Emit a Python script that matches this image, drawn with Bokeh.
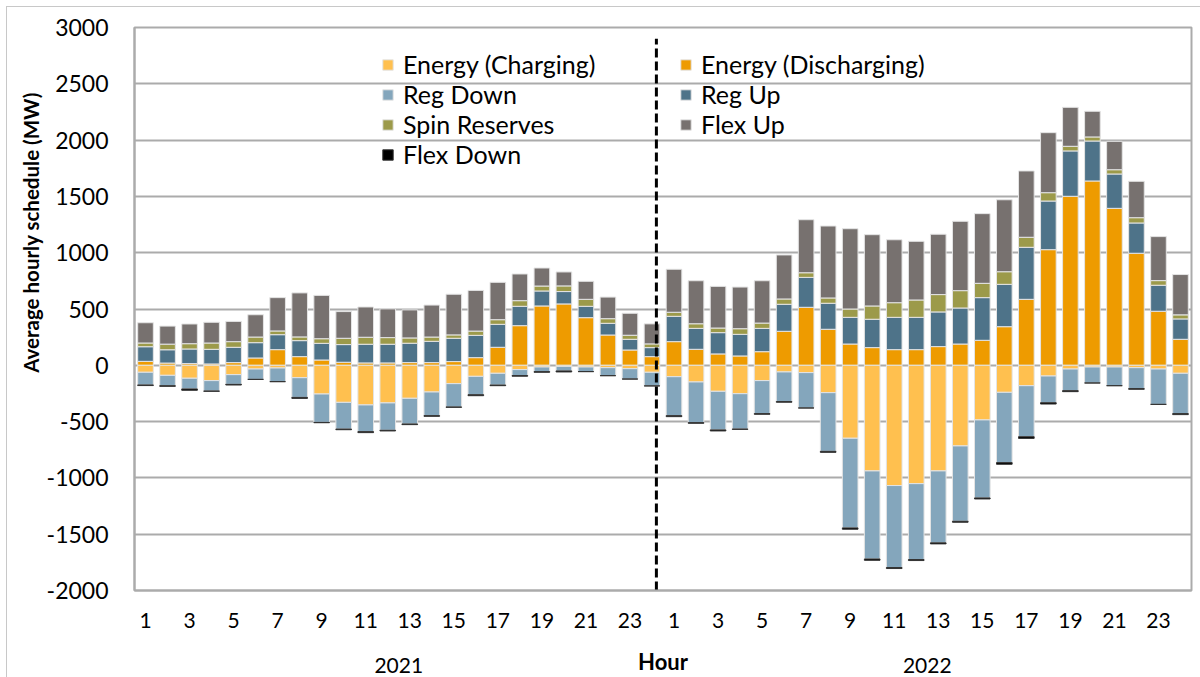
import numpy as np
from bokeh.plotting import figure
from bokeh.models import ColumnDataSource, Range1d, FixedTicker, Legend, LegendItem, LinearAxis
from bokeh.embed import file_html
from bokeh.resources import INLINE

# ---------------- data ----------------
years = ["2021", "2022"]
hours = list(range(1, 25))

discharging_2021 = [35, 20, 15, 12, 24, 65, 139, 77, 47, 27, 21, 21, 24, 24, 33, 68, 160, 352, 527, 545, 423, 269, 136, 77]
discharging_2022 = [210, 142, 101, 83, 121, 302, 515, 320, 189, 157, 139, 139, 166, 189, 222, 343, 586, 1027, 1501, 1637, 1394, 995, 480, 231]

reg_up_2021 = [130, 118, 130, 130, 136, 136, 133, 142, 148, 157, 166, 166, 172, 189, 207, 198, 204, 172, 133, 110, 101, 104, 95, 80]
reg_up_2022 = [225, 186, 189, 192, 207, 240, 266, 231, 237, 252, 287, 287, 308, 320, 379, 376, 462, 432, 403, 355, 305, 269, 231, 181]

spin_2021 = [33, 50, 47, 56, 50, 50, 33, 33, 41, 56, 62, 59, 47, 38, 30, 38, 41, 50, 44, 50, 62, 41, 36, 33]
spin_2022 = [36, 41, 41, 50, 47, 47, 41, 47, 74, 118, 130, 154, 154, 154, 127, 112, 89, 74, 41, 36, 38, 47, 41, 36]

flex_up_2021 = [180, 160, 175, 184, 180, 198, 296, 391, 385, 237, 269, 255, 249, 284, 361, 361, 332, 237, 160, 124, 160, 192, 195, 178]
flex_up_2022 = [382, 382, 370, 370, 376, 391, 471, 639, 713, 633, 559, 521, 536, 616, 619, 639, 589, 533, 346, 228, 252, 323, 391, 358]

charging_2021 = [-62, -89, -115, -136, -83, -33, -24, -110, -255, -329, -352, -334, -293, -237, -163, -98, -71, -38, -15, -9, -15, -21, -30, -62]
charging_2022 = [-101, -148, -231, -252, -136, -59, -65, -243, -648, -938, -1068, -1051, -938, -716, -485, -240, -181, -95, -33, -15, -15, -21, -33, -71]

reg_down_2021 = [-112, -92, -95, -92, -86, -92, -121, -175, -252, -237, -237, -243, -228, -210, -207, -163, -104, -53, -41, -41, -41, -71, -92, -121]
reg_down_2022 = [-346, -361, -343, -314, -293, -263, -314, -521, -796, -782, -728, -674, -639, -669, -693, -624, -453, -237, -192, -142, -166, -186, -314, -358]

flex_down_2021 = [-6, -6, -12, -3, -6, 0, 0, -9, -3, -6, -9, -6, -6, -6, -3, -9, -6, -6, -6, -9, 0, 0, 0, 0]
flex_down_2022 = [-9, -6, -9, -3, -6, -6, 0, -9, -12, -12, -9, -9, -9, -9, -9, -15, -15, -12, -9, 0, 0, -6, 0, -9]

y_ticks = [-2000, -1500, -1000, -500, 0, 500, 1000, 1500, 2000, 2500, 3000]

# ---------------- build ----------------
n = len(hours)
xs = list(range(1, 2 * n + 1))
src = ColumnDataSource(dict(
    x=xs,
    discharging=discharging_2021 + discharging_2022,
    reg_up=reg_up_2021 + reg_up_2022,
    spin=spin_2021 + spin_2022,
    flex_up=flex_up_2021 + flex_up_2022,
    charging=charging_2021 + charging_2022,
    reg_down=reg_down_2021 + reg_down_2022,
    flex_down=flex_down_2021 + flex_down_2022,
))

C_CHG = "#FFC04F"
C_DIS = "#EE9B00"
C_RDN = "#84A6BC"
C_RUP = "#4E7389"
C_SPN = "#9C9A4A"
C_FUP = "#77716F"
C_FDN = "#000000"
GRID = "#ABABAB"
FONT = "Lato"

p = figure(width=1193, height=670, output_backend="svg", toolbar_location=None,
           x_range=Range1d(0.5, 2 * n + 0.5), y_range=Range1d(-2000, 3000),
           min_border_left=127, min_border_right=9, min_border_top=20, min_border_bottom=87)
p.styles = {"position": "relative", "left": "7px", "top": "7px", "outline": "1.5px solid #c8c8c8"}
p.outline_line_color = GRID
p.outline_line_width = 2
p.background_fill_color = "white"
p.border_fill_color = "white"

pos = p.vbar_stack(["discharging", "reg_up", "spin", "flex_up"], x="x", width=0.71, source=src,
                   fill_color=[C_DIS, C_RUP, C_SPN, C_FUP], line_color="#e4e4e4", line_width=1)
neg = p.vbar_stack(["charging", "reg_down", "flex_down"], x="x", width=0.71, source=src,
                   fill_color=[C_CHG, C_RDN, C_FDN], line_color=["#e4e4e4", "#e4e4e4", "#333333"], line_width=1)

# divider between years
divider = n + 0.2
p.segment(x0=[divider], y0=[-2000], x1=[divider], y1=[2900], line_color="black",
          line_width=3, line_dash="9 4")

# grid
p.xgrid.visible = False
p.ygrid.ticker = FixedTicker(ticks=y_ticks)
p.ygrid.grid_line_color = GRID
p.ygrid.grid_line_width = 2

# y axis
p.yaxis.ticker = FixedTicker(ticks=y_ticks)
p.yaxis.major_label_overrides = {t: str(t) for t in y_ticks}
p.yaxis.major_tick_line_color = None
p.yaxis.major_tick_out = 0
p.yaxis.major_tick_in = 0
p.yaxis.minor_tick_line_color = None
p.yaxis.axis_line_color = GRID
p.yaxis.axis_line_width = 2
p.yaxis.major_label_standoff = 26
p.yaxis.major_label_text_font = FONT
p.yaxis.major_label_text_font_size = "23px"
p.yaxis.major_label_text_color = "black"

# y-axis title as a separate axis (positioned like the reference)
px_per_unit_y = 563 / 5000.0
title_y = -2000 + (590 - 232) / px_per_unit_y
ytitle = LinearAxis(ticker=FixedTicker(ticks=[title_y]),
                    major_label_overrides={title_y: "Average hourly schedule (MW)"},
                    major_label_orientation="vertical", major_label_standoff=1,
                    major_tick_line_color=None, major_tick_out=0, major_tick_in=0,
                    minor_tick_line_color=None, axis_line_color=None,
                    major_label_text_font=FONT, major_label_text_font_size="20.5px",
                    major_label_text_font_style="bold", major_label_text_color="black")
p.add_layout(ytitle, "left")

# x axis (hours)
tick_x = [x for x in xs if (x - 1) % 2 == 0]
p.xaxis.ticker = FixedTicker(ticks=tick_x)
p.xaxis.major_label_overrides = {x: str(((x - 1) % n) + 1) for x in tick_x}
p.xaxis.major_tick_line_color = None
p.xaxis.major_tick_out = 0
p.xaxis.major_tick_in = 0
p.xaxis.minor_tick_line_color = None
p.xaxis.axis_line_color = GRID
p.xaxis.axis_line_width = 2
p.xaxis.major_label_standoff = 22
p.xaxis.major_label_text_font = FONT
p.xaxis.major_label_text_font_size = "21px"
p.xaxis.major_label_text_color = "black"

# year axis + "Hour" title
year_pos = [i * n + (n + 1) / 2 for i in range(len(years))]
yaxis_years = LinearAxis(ticker=FixedTicker(ticks=year_pos),
                         major_label_overrides={yp: yr for yp, yr in zip(year_pos, years)},
                         major_label_standoff=27,
                         major_tick_line_color=None, major_tick_out=0, major_tick_in=0,
                         minor_tick_line_color=None, axis_line_color=None,
                         major_label_text_font=FONT, major_label_text_font_size="21px",
                         major_label_text_color="black",
                         axis_label="Hour", axis_label_standoff=-28,
                         axis_label_text_font=FONT, axis_label_text_font_size="22px",
                         axis_label_text_font_style="bold", axis_label_text_color="black")
p.add_layout(yaxis_years, "below")

# legends (two columns)
left_items = [LegendItem(label="Energy (Charging)", renderers=[neg[0]]),
              LegendItem(label="Reg Down", renderers=[neg[1]]),
              LegendItem(label="Spin Reserves", renderers=[pos[2]]),
              LegendItem(label="Flex Down", renderers=[neg[2]])]
right_items = [LegendItem(label="Energy (Discharging)", renderers=[pos[0]]),
               LegendItem(label="Reg Up", renderers=[pos[1]]),
               LegendItem(label="Flex Up", renderers=[pos[3]])]

def mk_legend(items, loc):
    return Legend(items=items, location=loc, orientation="vertical",
                  glyph_width=13, glyph_height=13, label_standoff=9, label_height=29,
                  spacing=0, padding=0, margin=0, border_line_color=None,
                  background_fill_alpha=0, label_text_font=FONT, label_text_font_size="25px",
                  label_text_color="black")

p.add_layout(mk_legend(left_items, (247, 421)), "center")
p.add_layout(mk_legend(right_items, (545, 451)), "center")

open("out.html", "w").write(file_html(p, INLINE))
